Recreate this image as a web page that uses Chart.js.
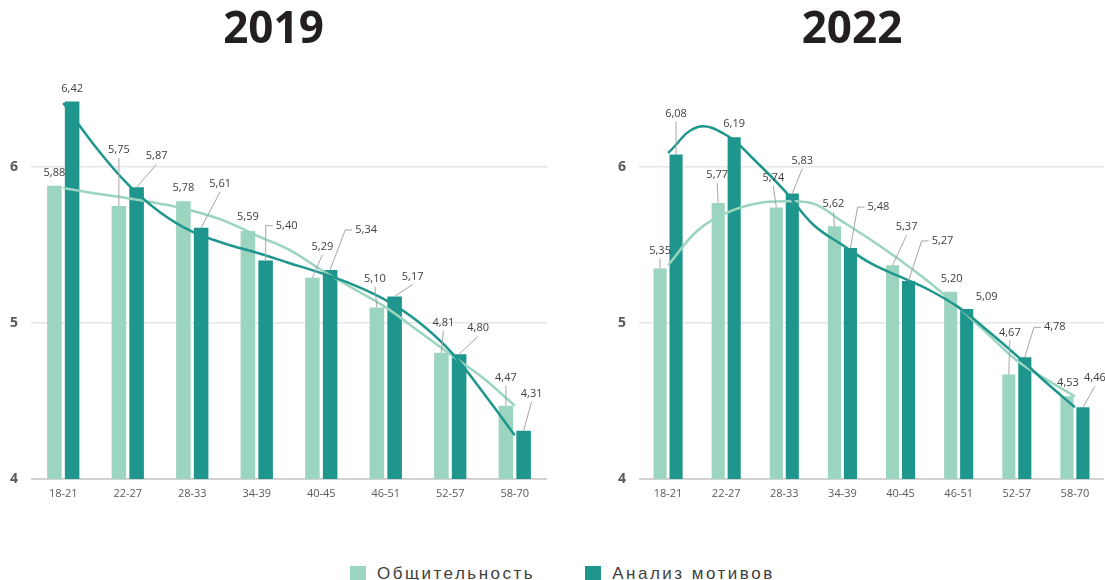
<!DOCTYPE html>
<html>
<head>
<meta charset="utf-8">
<script src="https://cdn.jsdelivr.net/npm/chart.js@4.4.1/dist/chart.umd.min.js"></script>
<style>
  html, body { margin: 0; padding: 0; background: #fff; }
  body { width: 1105px; height: 580px; position: relative; overflow: hidden; }
  #box2019 { position: absolute; left: 0; top: 0; width: 548px; height: 520px; }
  #box2022 { position: absolute; left: 600px; top: 0; width: 505px; height: 520px; }
  #legend { position: absolute; left: 350px; top: 564px; display: flex; align-items: center;
            font-family: "Liberation Sans", Arial, sans-serif; font-size: 17px; letter-spacing: 2.5px; color: #404040; }
  #legend .item { display: flex; align-items: center; margin-right: 50px; }
  #legend .sq { width: 16px; height: 16px; margin-right: 11px; }
</style>
</head>
<body>
<div id="box2019"><canvas id="chart2019"></canvas></div>
<div id="box2022"><canvas id="chart2022"></canvas></div>
<div id="legend"></div>
<script>
// данные
var CATEGORIES = ['18-21', '22-27', '28-33', '34-39', '40-45', '46-51', '52-57', '58-70'];
var SERIES = ['Общительность', 'Анализ мотивов'];
var Y_TICKS = [4, 5, 6];

var SOC_2019 = [5.88, 5.75, 5.78, 5.59, 5.29, 5.10, 4.81, 4.47];
var MOT_2019 = [6.42, 5.87, 5.61, 5.40, 5.34, 5.17, 4.80, 4.31];
var SOC_2022 = [5.35, 5.77, 5.74, 5.62, 5.37, 5.20, 4.67, 4.53];
var MOT_2022 = [6.08, 6.19, 5.83, 5.48, 5.27, 5.09, 4.78, 4.46];

// линии тренда (шаг пол-категории)
var TREND_X = [0, 0.5, 1, 1.5, 2, 2.5, 3, 3.5, 4, 4.5, 5, 5.5, 6, 6.5, 7];
var SOC_2019_TREND = [5.865, 5.83, 5.80, 5.765, 5.72, 5.655, 5.56, 5.47, 5.34, 5.22, 5.10, 4.95, 4.80, 4.65, 4.47];
var MOT_2019_TREND = [6.41, 6.13, 5.89, 5.71, 5.585, 5.51, 5.45, 5.385, 5.32, 5.245, 5.147, 5.01, 4.82, 4.56, 4.28];
var SOC_2022_TREND = [5.37, 5.59, 5.705, 5.765, 5.78, 5.765, 5.65, 5.53, 5.40, 5.26, 5.10, 4.93, 4.76, 4.64, 4.53];
var MOT_2022_TREND = [6.09, 6.255, 6.205, 6.04, 5.85, 5.63, 5.50, 5.38, 5.295, 5.21, 5.10, 4.95, 4.79, 4.62, 4.46];

var LIGHT = '#9bd4bf';
var DARK = '#1e968d';

// смещения подписей от верха столбца [dx, dy, излом выноски]
var LABELS_2019 = [
  [[0, -13], [0, -56], [0, -13], [0, -14], [10, -31], [-2, -29], [2, -30], [0, -28]],
  [[0, -13], [20, -31], [19, -44], [21, -35, 1], [36, -40, 1], [18, -20], [19, -26], [8, -37]]
];
var LABELS_2022 = [
  [[0, -18], [-1, -28], [-3, -30], [-1, -22], [14, -38], [1, -13], [1, -42], [1, -13]],
  [[0, -41], [0, -14], [10, -33], [28, -41, 1], [34, -40, 1], [20, -12], [30, -30, 1], [12, -29]]
];

// подписи значений с выносками
var leaderLabels = {
  id: 'leaderLabels',
  afterDatasetsDraw: function(chart, args, opts) {
    var ctx = chart.ctx;
    ctx.save();
    ctx.font = '11px "Open Sans"';
    ctx.textAlign = 'center';
    ctx.textBaseline = 'middle';
    ctx.strokeStyle = '#a5a5a5';
    ctx.lineWidth = 1;
    opts.offsets.forEach(function(list, di) {
      var meta = chart.getDatasetMeta(di);
      meta.data.forEach(function(bar, i) {
        var o = list[i];
        var txt = chart.data.datasets[di].data[i].y.toFixed(2).replace('.', ',');
        var lx = bar.x + o[0], ly = bar.y + o[1];
        var w = ctx.measureText(txt).width;
        if (bar.y - ly > 16) {
          ctx.beginPath();
          ctx.moveTo(bar.x, bar.y);
          if (o[2]) {
            ctx.lineTo(lx - w / 2 - 10, ly);
            ctx.lineTo(lx - w / 2 - 3, ly);
          } else {
            ctx.lineTo(lx, ly + 8);
          }
          ctx.stroke();
        }
        ctx.fillStyle = '#404040';
        ctx.fillText(txt, lx, ly);
      });
    });
    ctx.restore();
  }
};

function points(xs, values) {
  return xs.map(function(x, i) { return { x: x, y: values[i] }; });
}
var CAT_X = CATEGORIES.map(function(c, i) { return i; });

function drawChart(id, title, soc, mot, socTrend, motTrend, offsets, yWidth) {
  var ctx = document.getElementById(id).getContext('2d');
  return new Chart(ctx, {
    type: 'bar',
    data: {
      datasets: [
        { label: SERIES[0], data: points(CAT_X, soc), backgroundColor: LIGHT, categoryPercentage: 0.55, barPercentage: 0.82, order: 2 },
        { label: SERIES[1], data: points(CAT_X, mot), backgroundColor: DARK, categoryPercentage: 0.55, barPercentage: 0.82, order: 2 },
        { type: 'line', data: points(TREND_X, socTrend), borderColor: LIGHT, borderWidth: 2.5,
          pointRadius: 0, tension: 0.4, fill: false, order: 1 },
        { type: 'line', data: points(TREND_X, motTrend), borderColor: DARK, borderWidth: 2.5,
          pointRadius: 0, tension: 0.4, fill: false, order: 0 }
      ]
    },
    options: {
      responsive: true,
      maintainAspectRatio: false,
      animation: false,
      layout: { padding: { left: 0, right: 1, top: 0, bottom: 0 } },
      scales: {
        x: {
          type: 'linear', min: -0.5, max: 7.5, offset: false,
          afterBuildTicks: function(s) { s.ticks = CAT_X.map(function(v) { return { value: v }; }); },
          afterFit: function(s) { s.height = 41; },
          grid: { display: false, drawTicks: false, offset: false },
          border: { display: false },
          ticks: {
            autoSkip: false, maxRotation: 0, padding: 8, color: '#595959',
            font: { family: 'Open Sans', size: 11 },
            callback: function(v) { return CATEGORIES[v]; }
          }
        },
        y: {
          min: 4, max: 6.5,
          afterBuildTicks: function(s) { s.ticks = Y_TICKS.map(function(v) { return { value: v }; }); },
          afterFit: function(s) { s.width = yWidth; },
          grid: {
            drawTicks: false,
            color: function(c) { return c.tick && c.tick.value === 4 ? '#d2d2d2' : '#e6e6e6'; },
            lineWidth: function(c) { return c.tick && c.tick.value === 4 ? 2 : 1.5; }
          },
          border: { display: false },
          ticks: { padding: 13, color: '#595959', font: { family: 'Open Sans', size: 14, weight: 'bold' } }
        }
      },
      plugins: {
        legend: { display: false },
        tooltip: { enabled: false },
        title: {
          display: true, text: title, color: '#231f20',
          font: { family: 'Open Sans', size: 44, weight: 'bold' },
          padding: { top: 4, bottom: 32.2 }
        },
        leaderLabels: { offsets: offsets }
      }
    },
    plugins: [leaderLabels]
  });
}

drawChart('chart2019', '2019', SOC_2019, MOT_2019, SOC_2019_TREND, MOT_2019_TREND, LABELS_2019, 31);
drawChart('chart2022', '2022', SOC_2022, MOT_2022, SOC_2022_TREND, MOT_2022_TREND, LABELS_2022, 39);

// легенда
var legend = document.getElementById('legend');
[LIGHT, DARK].forEach(function(color, i) {
  var item = document.createElement('div');
  item.className = 'item';
  var sq = document.createElement('div');
  sq.className = 'sq';
  sq.style.background = color;
  var txt = document.createElement('span');
  txt.textContent = SERIES[i];
  item.appendChild(sq);
  item.appendChild(txt);
  legend.appendChild(item);
});
</script>
</body>
</html>
